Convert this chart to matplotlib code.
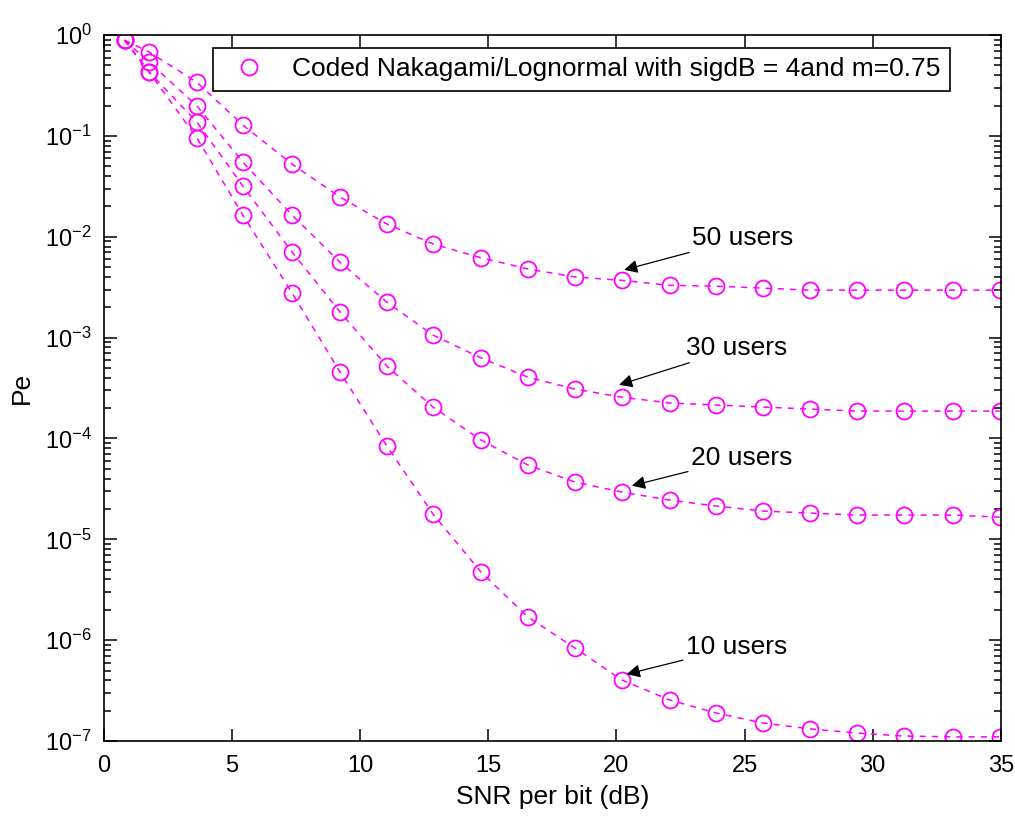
import numpy as np
import matplotlib
matplotlib.use("Agg")
import matplotlib.pyplot as plt
from matplotlib.ticker import LogLocator, NullFormatter, FixedLocator

# SNR per bit (dB)
snr_db = [0.8, 1.76, 3.63, 5.42, 7.34, 9.21, 11.04, 12.84, 14.71, 16.54,
          18.38, 20.21, 22.08, 23.88, 25.71, 27.55, 29.38, 31.21, 33.12, 34.96]

pe_50 = [0.89, 0.68, 0.34, 0.128, 0.0526, 0.0248, 0.0134, 0.0085, 0.0062, 0.0048,
         0.0040, 0.0037, 0.0033, 0.00324, 0.0031, 0.00296, 0.00296, 0.00296, 0.00296, 0.00296]
pe_30 = [0.89, 0.54, 0.198, 0.055, 0.0164, 0.0056, 0.00225, 0.00106, 0.00063, 0.000406,
         0.000309, 0.000257, 0.000225, 0.000215, 0.000205, 0.000196, 0.000187, 0.000187, 0.000187, 0.000187]
pe_20 = [0.89, 0.43, 0.137, 0.0318, 0.00706, 0.00180, 0.000522, 0.000205, 9.66e-5, 5.46e-5,
         3.70e-5, 2.94e-5, 2.45e-5, 2.14e-5, 1.91e-5, 1.82e-5, 1.74e-5, 1.74e-5, 1.74e-5, 1.66e-5]
pe_10 = [0.89, 0.43, 0.0953, 0.0164, 0.00277, 4.56e-4, 8.41e-5, 1.78e-5, 4.74e-6, 1.70e-6,
         8.36e-7, 4.03e-7, 2.55e-7, 1.90e-7, 1.51e-7, 1.32e-7, 1.20e-7, 1.12e-7, 1.10e-7, 1.10e-7]

legend_label = "Coded Nakagami/Lognormal with sigdB = 4and m=0.75"

# annotation text, text position, arrow tip
labels = ["50 users", "30 users", "20 users", "10 users"]
text_xy = [(22.95, 9.7e-3), (22.7, 7.9e-4), (22.9, 6.4e-5), (22.7, 8.6e-7)]
tip_xy = [(20.3, 4.7e-3), (20.1, 3.4e-4), (20.6, 3.4e-5), (20.4, 4.6e-7)]

plt.rcParams['font.family'] = ['Liberation Sans', 'DejaVu Sans']
plt.rcParams['axes.unicode_minus'] = False
mag = (1, 0, 1)

fig = plt.figure(figsize=(10.15, 8.17), dpi=100)
ax = fig.add_axes([0.1025, 0.093, 0.8835, 0.864])

series = [pe_50, pe_30, pe_20, pe_10]
for i, pe in enumerate(series):
    ax.semilogy(snr_db, pe, 'o', color=mag, mfc='none', ms=11.5, mew=1.3,
                label=legend_label if i == 0 else None)
    ax.semilogy(snr_db, pe, '--', color=mag, lw=1.1, dashes=(4, 4))

for lab, txy, pxy in zip(labels, text_xy, tip_xy):
    ax.annotate(lab, xy=pxy, xytext=txy, fontsize=19, va='center', ha='left',
                arrowprops=dict(arrowstyle='-|>', color='k', lw=0.9,
                                mutation_scale=20, shrinkA=0, shrinkB=0))

ax.set_xlim(0, 35)
ax.set_ylim(1e-7, 1)
ax.set_xticks(np.arange(0, 36, 5))
ax.yaxis.set_major_locator(FixedLocator(10.0 ** np.arange(-7, 1)))
minor = [m * 10.0 ** e for e in range(-7, 0) for m in range(2, 10)]
ax.yaxis.set_minor_locator(FixedLocator(minor))
ax.yaxis.set_minor_formatter(NullFormatter())
ax.tick_params(which='both', direction='in', top=True, right=True, labelsize=17, width=1.1)
ax.tick_params(which='major', length=9)
ax.tick_params(axis='x', which='major', pad=10)
ax.tick_params(axis='y', which='major', pad=9)
ax.tick_params(which='minor', length=5)
for s in ax.spines.values():
    s.set_linewidth(1.2)

ax.set_xlabel("SNR per bit (dB)", fontsize=19, labelpad=6)
ax.set_ylabel("Pe", fontsize=19, labelpad=8)

leg = ax.legend(loc='upper left', bbox_to_anchor=(0.1215, 0.9816), borderaxespad=0,
                fontsize=19, fancybox=False, framealpha=1, edgecolor='k',
                handletextpad=0.65, borderpad=0.35, handlelength=2.0)
leg.get_frame().set_linewidth(1.2)

fig.savefig("out.png", dpi=100)
